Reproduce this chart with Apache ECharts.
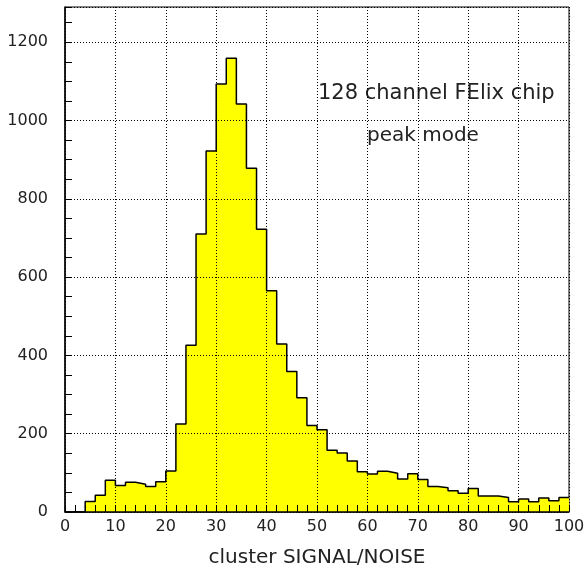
<!DOCTYPE html>
<html>
<head>
<meta charset="utf-8">
<script src="https://cdn.jsdelivr.net/npm/echarts@6/dist/echarts.min.js"></script>
<style>
html, body { margin: 0; padding: 0; background: #fff; }
#main { width: 586px; height: 570px; }
</style>
</head>
<body>
<div id="main"></div>
<script>
// histogram bins: width 2, starting at 0
var binStart = 0;
var binWidth = 2;
var counts = [
  0, 0, 27, 43, 81, 68, 76, 71, 65, 77,
  105, 225, 426, 710, 922, 1093, 1159, 1042, 878, 722,
  565, 429, 359, 292, 221, 210, 158, 151, 130, 103,
  97, 104, 99, 84, 98, 83, 65, 62, 54, 48,
  60, 41, 41, 37, 26, 33, 26, 36, 29, 37
];
var xTitle = 'cluster SIGNAL/NOISE';
var noteLines = ['128 channel FElix chip', 'peak mode'];

// left edges with step 'end', plus closing point at the last right edge
var stepData = [];
for (var i = 0; i < counts.length; i++) {
  stepData.push([binStart + i * binWidth, counts[i]]);
}
stepData.push([binStart + counts.length * binWidth, counts[counts.length - 1]]);

var font = '"DejaVu Sans", Verdana, sans-serif';
var myChart = echarts.init(document.getElementById('main'));

var option = {
  backgroundColor: '#fff',
  animation: false,
  grid: {
    left: 65, right: 17, top: 7, bottom: 58,
    outerBoundsMode: 'none',
    containLabel: false,
    show: true, borderColor: '#000', borderWidth: 1
  },
  xAxis: {
    type: 'value',
    min: 0, max: 100, interval: 10,
    z: 5,
    name: xTitle,
    nameLocation: 'middle',
    nameGap: 36,
    nameTextStyle: { fontFamily: font, fontSize: 20, color: '#222' },
    axisLine: { show: true, lineStyle: { color: '#000', width: 1.5 } },
    axisTick: { show: true, inside: true, length: 7, lineStyle: { color: '#000' } },
    minorTick: { show: true, splitNumber: 5, length: 7, lineStyle: { color: '#000' } },
    axisLabel: { fontFamily: font, fontSize: 16, color: '#222', margin: 7 },
    splitLine: { show: true, lineStyle: { color: '#000', type: [1, 2], width: 1 } }
  },
  yAxis: {
    type: 'value',
    min: 0, max: 1290, interval: 200,
    z: 5,
    axisLine: { show: true, lineStyle: { color: '#000', width: 1.5 } },
    axisTick: { show: true, inside: true, length: 7, lineStyle: { color: '#000' } },
    minorTick: { show: true, splitNumber: 4, length: 7, lineStyle: { color: '#000' } },
    axisLabel: {
      fontFamily: font, fontSize: 16, color: '#222', margin: 17, showMaxLabel: false,
      formatter: function (v) { return String(v); }
    },
    splitLine: { show: true, lineStyle: { color: '#000', type: [1, 2], width: 1 } }
  },
  series: [{
    type: 'line',
    step: 'end',
    data: stepData,
    symbol: 'none',
    lineStyle: { color: '#000', width: 1.5 },
    areaStyle: { color: '#ffff00', opacity: 1 },
    z: 2
  }],
  graphic: [
    {
      type: 'text', left: 318, top: 83,
      style: { text: noteLines[0], font: '21px ' + font, fill: '#222' }
    },
    {
      type: 'text', left: 367, top: 126,
      style: { text: noteLines[1], font: '20px ' + font, fill: '#222' }
    }
  ]
};

myChart.setOption(option);
</script>
</body>
</html>
